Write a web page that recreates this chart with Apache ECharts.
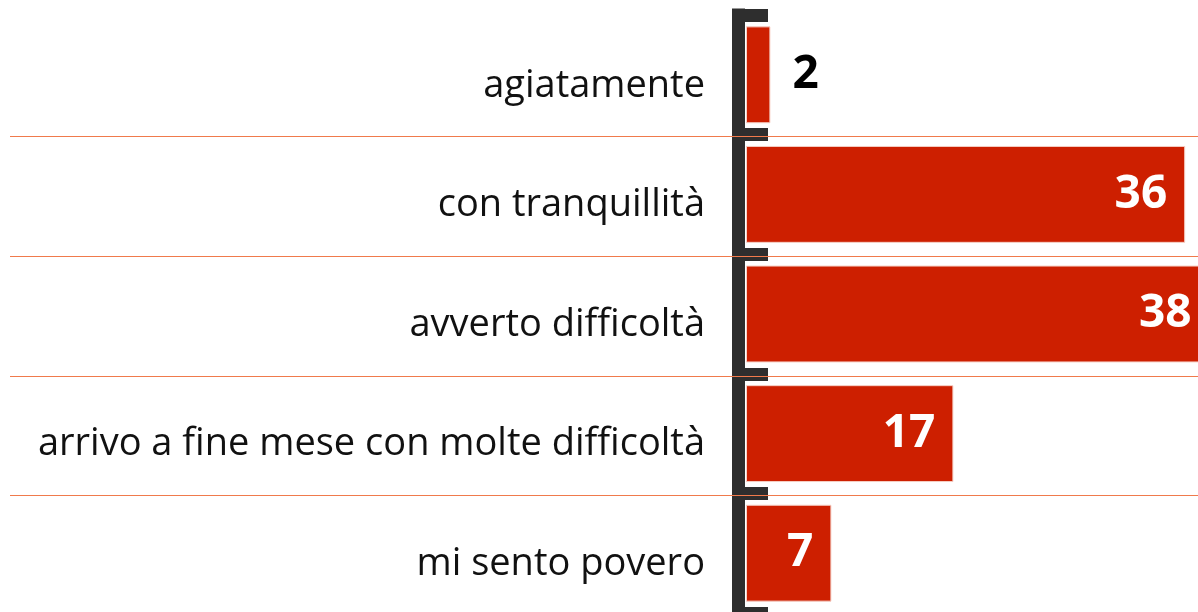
<!DOCTYPE html>
<html><head><meta charset="utf-8">
<script src="https://cdn.jsdelivr.net/npm/echarts@6/dist/echarts.min.js"></script>
<style>html,body{margin:0;padding:0;background:#fff}#c{width:1198px;height:612px}</style>
</head><body><div id="c"></div>
<script>
const categories = ['agiatamente','con tranquillità','avverto difficoltà','arrivo a fine mese con molte difficoltà','mi sento povero'];
const values = [2, 36, 38, 17, 7];
const outsideLabel = [true, false, false, false, false];

const chart = echarts.init(document.getElementById('c'));
const GT = 15, GH = 598;
chart.setOption({
  animation: false,
  grid: [
    {left: 746, top: GT, width: 488, height: GH, outerBoundsMode: 'none', containLabel: false},
    {left: 10, top: GT + 2, right: 0, height: GH, outerBoundsMode: 'none', containLabel: false}
  ],
  xAxis: [
    {gridIndex: 0, type: 'value', min: 0, max: 40, show: false},
    {gridIndex: 1, type: 'value', min: 0, max: 1, show: false}
  ],
  yAxis: [
    {gridIndex: 0, type: 'category', data: categories, inverse: true, offset: 8,
     axisLine: {show: true, onZero: false, lineStyle: {color: '#2e2e2e', width: 13, cap: 'square'}},
     axisTick: {show: true, inside: true, length: 30, lineStyle: {color: '#2e2e2e', width: 13}},
     axisLabel: {margin: 33, fontFamily: 'Open Sans', fontSize: 38, color: '#111', verticalAlign: 'top', lineHeight: 22},
     splitLine: {show: false}, z: 3},
    {gridIndex: 1, type: 'value', min: 0, max: 5, interval: 1, inverse: true,
     axisLine: {show: false}, axisTick: {show: false}, axisLabel: {show: false},
     splitLine: {show: true, showMinLine: false, showMaxLine: false, lineStyle: {color: '#f07a4c', width: 1.2}}, z: 4}
  ],
  series: [{
    type: 'bar', xAxisIndex: 0, yAxisIndex: 0,
    barCategoryGap: '19%',
    data: values.map((v, i) => ({
      value: v,
      label: outsideLabel[i]
        ? {position: 'right', distance: 22, color: '#000'}
        : {position: 'insideRight', distance: 18, color: '#fff'}
    })),
    itemStyle: {color: '#cd1f00', borderColor: '#f6cfc4', borderWidth: 1},
    label: {show: true, fontFamily: 'Open Sans', fontWeight: 'bold', fontSize: 46},
    z: 2
  }]
});
</script></body></html>
